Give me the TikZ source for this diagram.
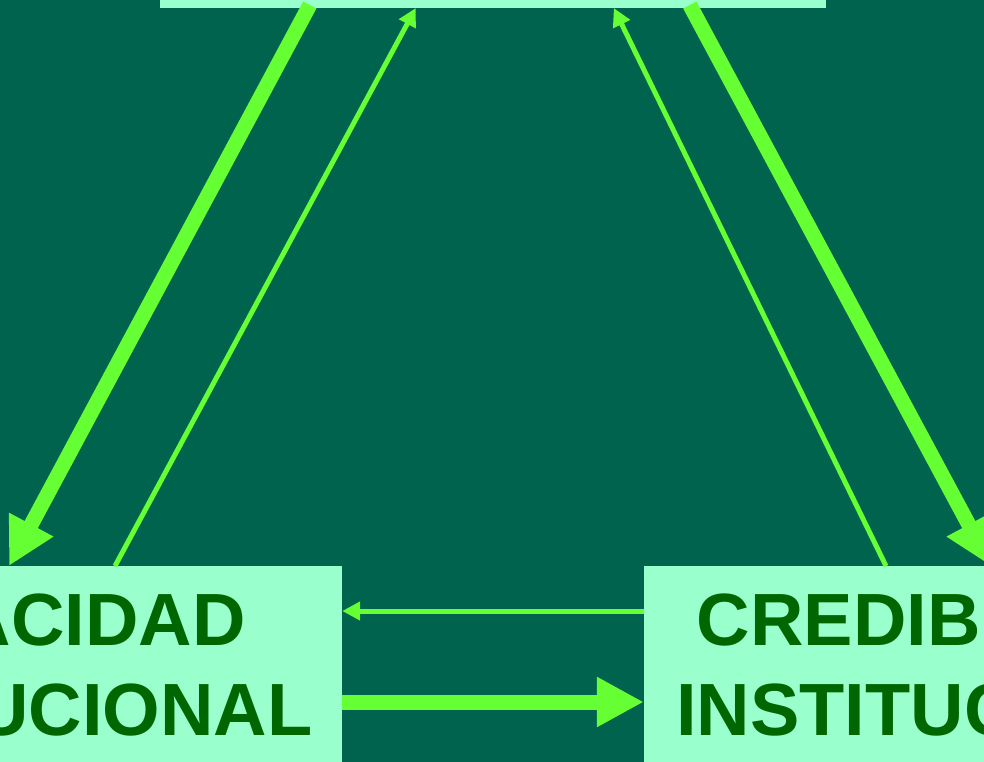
\documentclass[tikz,border=0pt]{standalone}
\usepackage{fontspec}
\setmainfont{Liberation Sans}
\usetikzlibrary{arrows.meta,calc}
\definecolor{bgcol}{HTML}{00634E}
\definecolor{boxcol}{HTML}{99FFCC}
\definecolor{txtcol}{HTML}{006600}
\definecolor{arrcol}{HTML}{66FF33}
\tikzset{
  mintbox/.style={fill=boxcol, draw=none, inner sep=0pt},
  labelbox/.style={mintbox, anchor=north, inner xsep=0pt, inner ysep=28pt,
    align=center, text=txtcol, font=\fontsize{74}{90}\selectfont\bfseries},
  thickarr/.style={draw=arrcol, line width=15pt, -{Triangle[length=47pt,width=47pt]}, arrcol},
  thinarr/.style={draw=arrcol, line width=5pt, -{Triangle[length=18pt,width=18pt]}, arrcol}
}
\begin{document}
\begin{tikzpicture}[x=1pt,y=-1pt]
\useasboundingbox (0,0) rectangle (984,762);
\clip (0,0) rectangle (984,762);
\fill[bgcol] (0,0) rectangle (984,762);
\node[mintbox, anchor=south, minimum width=666pt, minimum height=100pt] (top) at (493,8) {};
\node[labelbox, text width=631pt] (capbox) at (26.5,566) {CAPACIDAD\\INSTITUCIONAL};
\node[labelbox, text width=636pt] (credbox) at (962,566) {CREDIBILIDAD\\INSTITUCIONAL};
% diagonal arrows
\draw[thickarr] ($(top.south west)+(150,-3)$) -- ($(capbox.north)+(-17.5,0)$);
\draw[thinarr] ($(capbox.north)+(88.5,0)$) -- ($(top.south west)+(256,0)$);
\draw[thinarr] ($(credbox.north)+(-76,0)$) -- ($(top.south west)+(454,0)$);
\draw[thickarr] ($(top.south west)+(530,-3)$) -- ($(credbox.north)+(29,0)$);
% horizontal arrows
\draw[thinarr] ($(credbox.north west)+(0,45)$) -- ($(capbox.north east)+(0,45)$);
\draw[thickarr] ($(capbox.north east)+(0,136)$) -- ($(credbox.north west)+(0,136)$);
\end{tikzpicture}
\end{document}
